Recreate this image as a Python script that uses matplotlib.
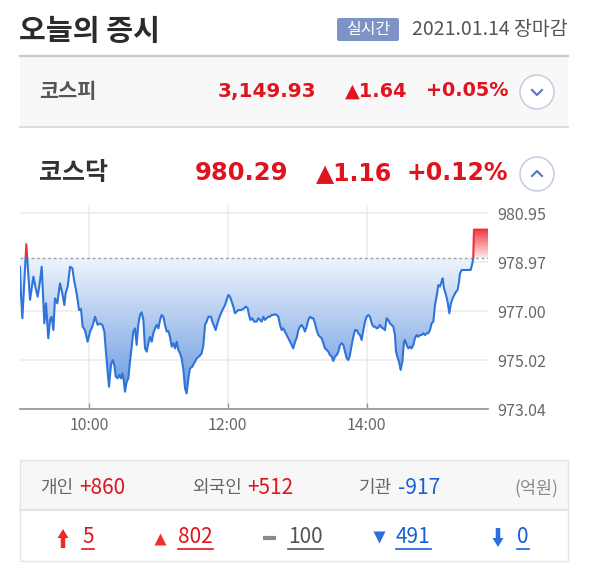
import numpy as np
import matplotlib
matplotlib.use("Agg")
import matplotlib.pyplot as plt
from matplotlib.colors import LinearSegmentedColormap
from matplotlib.patches import Rectangle, Circle, FancyBboxPatch, FancyArrow

plt.rcParams['font.family'] = ['Noto Sans CJK KR', 'DejaVu Sans']

RED = '#e0141e'
BLUE = '#1a5fd6'

# ---- data ----
title = "오늘의 증시"
badge = "실시간"
date_text = "2021.01.14 장마감"

index_names = ["코스피", "코스닥"]
index_values = ["3,149.93", "980.29"]
index_changes = ["1.64", "1.16"]
index_rates = ["+0.05%", "+0.12%"]

investors = ["개인", "외국인", "기관"]
investor_amounts = [860, 512, -917]
unit_label = "(억원)"

# 상한, 상승, 보합, 하락, 하한
breadth_counts = [5, 802, 100, 491, 0]

prev_close = 979.13
ytick_vals = [973.04, 975.02, 977.00, 978.97, 980.95]
xtick_minutes = [60, 180, 300]
xtick_labels = ["10:00", "12:00", "14:00"]

# minutes after 09:00
minutes = [
    0.3, 1.2, 2.4, 4.7, 5.8, 6.7, 9.0, 11.9, 13.3, 15.6, 17.6, 19.1, 20.5, 21.4,
    22.8, 24.0, 24.8, 26.3, 27.7, 29.2, 30.6, 32.6, 34.9, 36.9, 38.7, 39.8, 41.6,
    43.6, 45.6, 47.3, 49.3, 51.4, 53.1, 54.5, 56.5, 58.8, 60.9, 62.9, 65.2, 67.5,
    69.5, 71.5, 73.3, 74.4, 76.1, 77.3, 79.0, 80.5, 81.9, 83.1, 84.8, 86.2, 87.7,
    88.8, 90.0, 91.1, 92.6, 94.0, 95.4, 96.9, 98.3, 99.8, 101.2, 102.6, 104.1,
    105.5, 107.0, 108.4, 109.9, 111.3, 112.7, 114.2, 115.6, 117.1, 118.5, 120.0,
    121.4, 122.8, 124.3, 125.7, 127.2, 128.6, 130.0, 131.5, 132.9, 134.4, 135.8,
    137.2, 138.7, 140.1, 141.6, 143.0, 144.4, 145.9, 147.3, 149.3, 151.6, 153.1,
    155.1, 157.4, 158.9, 160.3, 161.7, 163.2, 165.5, 166.6, 168.4, 169.5, 171.0,
    172.4, 174.1, 176.1, 177.6, 179.0, 180.5, 181.9, 183.3, 184.8, 186.2, 187.7,
    189.1, 191.4, 193.4, 195.5, 197.2, 198.3, 199.5, 201.2, 202.7,
    204.9, 206.4, 207.8, 209.3, 210.7, 212.1, 213.6, 215.0, 216.5, 217.9, 219.4,
    220.8, 222.2, 223.7, 225.1, 226.6, 228.0, 229.4, 230.9, 232.3, 233.8, 235.2,
    236.6, 238.1, 239.5, 241.0, 242.4, 243.8, 245.3, 246.7, 248.2, 249.6, 251.1,
    252.5, 253.9, 255.4, 256.8, 258.3, 259.7, 261.1, 262.6, 264.0, 265.5, 266.9,
    268.3, 269.8, 271.2, 272.7, 274.1, 275.6, 277.0, 278.4, 279.9, 281.3, 282.8,
    284.2, 285.6, 287.1, 288.5, 290.0, 291.4, 292.8, 294.3, 295.7, 297.2, 298.6,
    300.0, 301.5, 302.9, 304.4, 305.8, 307.3, 308.7,
    310.1, 311.5, 313.0, 314.4, 315.9, 317.3, 318.7, 320.2, 321.6, 323.1, 324.5,
    325.4, 326.5, 328.0, 329.4, 330.9, 332.3, 333.2, 334.6, 336.0, 337.5, 338.9,
    340.4, 341.8, 343.2, 344.7, 346.1, 347.6, 349.0, 350.5, 351.9, 353.3, 354.8,
    356.2, 357.7, 359.1, 360.5, 362.0, 363.4, 364.9, 365.7, 366.9, 368.6, 370.0,
    371.5, 372.9, 374.4, 375.8, 377.3, 378.7, 379.9, 380.7, 382.2, 386.0, 389.9,
    391.1, 392.2, 392.8, 405.0,
]
kosdaq = [
    978.79, 977.65, 976.71, 978.73, 979.70, 979.06, 977.45, 978.39, 978.05, 977.58,
    978.19, 978.79, 977.38, 976.50, 977.31, 976.44, 975.90, 976.64, 976.77, 976.23,
    977.51, 977.31, 978.12, 977.72, 977.24, 977.72, 977.99, 978.79, 978.73, 978.19,
    977.72, 977.04, 977.08, 976.37, 976.23, 975.76, 976.17, 976.37, 976.77, 976.44,
    976.50, 976.44, 976.17, 975.49, 974.55, 973.94, 974.82, 975.02, 974.82, 974.35,
    974.28, 974.42, 974.28, 974.48, 974.21, 973.74, 974.15, 974.28, 974.95, 975.56,
    976.17, 976.30, 975.63, 976.44, 976.84,
    976.95, 976.64, 975.49, 975.36, 975.70, 975.96, 975.76, 976.10, 976.30, 976.44,
    976.30, 976.64, 976.84, 976.77, 976.44, 976.17, 976.19, 975.96, 975.56, 975.70,
    975.49, 975.76, 975.43, 975.29, 975.09, 974.62, 973.88, 973.67, 974.28, 974.68,
    974.75, 974.95, 975.09, 975.16, 975.29, 975.63, 976.44, 976.57, 976.77, 976.77,
    976.57, 976.37, 976.23, 976.50, 976.71, 976.91, 977.11, 977.24, 977.45, 977.65,
    977.58, 977.38, 977.18, 976.91, 976.98, 977.04, 977.04, 977.08, 977.18, 977.11,
    976.84, 976.64, 976.71, 976.57,
    976.57, 976.71, 976.64, 976.57, 976.77, 976.64, 976.71, 976.77, 976.77, 976.84,
    976.84, 976.87, 976.84, 976.77, 976.44, 976.23, 976.30, 976.17, 976.03, 975.90,
    975.76, 975.63, 975.49, 975.76, 975.90, 976.23, 976.37, 976.44, 976.33, 976.17,
    976.37, 976.64, 976.77, 976.71, 976.71, 976.50, 976.23, 976.03, 975.96, 975.90,
    975.70, 975.49, 975.43, 975.36, 975.22, 975.16, 974.98, 975.16, 975.22, 975.36,
    975.63, 975.70, 975.63, 975.36, 975.09, 975.02, 975.22, 975.63, 975.96, 976.23,
    976.23, 976.10, 976.03, 975.83, 976.23, 976.57, 976.77, 976.84, 976.77, 976.50,
    976.37, 976.37, 976.30,
    976.33, 976.44, 976.33, 976.30, 976.23, 976.71, 976.64, 976.50, 976.44, 976.37,
    976.03, 975.36, 975.16, 974.95, 974.62, 974.95, 975.76, 975.83, 975.63, 975.49,
    975.56, 975.49, 975.63, 975.90, 976.03, 975.96, 976.03, 976.03, 976.10, 976.03,
    976.10, 976.10, 976.23, 976.50, 976.57, 977.24, 977.58, 978.05, 977.99, 978.19,
    978.32, 977.92, 977.65, 977.38, 976.91, 977.31, 977.51, 977.65, 977.78, 977.85,
    978.19, 978.52, 978.66, 978.66, 978.66, 978.86, 979.13, 980.29, 980.29,
]

t = np.array(minutes)
v = np.array(kosdaq)

# ---- figure ----
W, H = 602, 584
fig = plt.figure(figsize=(W / 100, H / 100), dpi=100)
fig.patch.set_facecolor('white')

bg = fig.add_axes([0, 0, 1, 1], zorder=0)
bg.set_xlim(0, W)
bg.set_ylim(H, 0)
bg.axis('off')

# header
bg.text(19, 31, title, fontsize=21, fontweight='bold', color='#2b2b2b',
        ha='left', va='center')
bg.add_patch(FancyBboxPatch((337, 18), 62, 23, boxstyle='round,pad=0,rounding_size=2',
                            fc='#7d93c6', ec='none'))
bg.text(368, 29.5, badge, fontsize=11.5, color='white', ha='center', va='center')
bg.text(568, 29.5, date_text, fontsize=14, color='#555555', ha='right', va='center')
bg.plot([20, 568], [55.5, 55.5], color='#c8c8cf', lw=1.6)

# 코스피 / 코스닥 rows
bg.add_patch(Rectangle((20, 56.5), 548, 69.5, fc='#f8f8f8', ec='none'))
bg.plot([20, 568], [126.5, 126.5], color='#d5d5dc', lw=1.2)

rows_y = [91, 173]
name_sizes = [15, 18]
name_colors = ['#555555', '#333333']
num_sizes = [14.4, 17.5]
val_right = [316, 288]
chg_right = [407, 392]
for i in range(2):
    y = rows_y[i]
    bg.text(39, y, index_names[i], fontsize=name_sizes[i], fontweight='bold',
            color=name_colors[i], ha='left', va='center')
    bg.text(val_right[i], y, index_values[i], fontsize=num_sizes[i], fontweight='bold',
            color=RED, ha='right', va='center', family='DejaVu Sans')
    bg.text(chg_right[i], y, "▲" + index_changes[i], fontsize=num_sizes[i] - 0.5,
            fontweight='bold', color=RED, ha='right', va='center', family='DejaVu Sans')
    bg.text(508, y, index_rates[i], fontsize=num_sizes[i] - 0.5, fontweight='bold',
            color=RED, ha='right', va='center', family='DejaVu Sans')
    bg.add_patch(Circle((537, y + 1), 17, fc='white', ec='#c5cbe0', lw=1.1))

bg.plot([532, 537, 542], [90, 95, 90], color='#5874c4', lw=1.5)
bg.plot([532, 537, 542], [176, 171, 176], color='#5874c4', lw=1.5)

# ---- chart ----
px_per_min = 1.1567
px_per_val = 1 / 0.04042
ymin, ymax = 973.04, 981.3
left_px, bottom_px = 19.6, 409
ax = fig.add_axes([left_px / W, (H - bottom_px) / H,
                   405 * px_per_min / W, (ymax - ymin) * px_per_val / H],
                  zorder=1)
ax.patch.set_alpha(0)


def gradient_fill(ax, x, lo, hi, c_top, c_bot, v_top, v_bot):
    poly = ax.fill_between(x, lo, hi, color='none', lw=0)
    cmap = LinearSegmentedColormap.from_list('g', [c_top, c_bot])
    grad = np.linspace(0, 1, 256)[:, None]
    im = ax.imshow(grad, cmap=cmap, aspect='auto', origin='upper',
                   extent=[x.min(), x.max(), v_bot, v_top], zorder=1)
    im.set_clip_path(poly.get_paths()[0], transform=ax.transData)


gradient_fill(ax, t, np.minimum(v, prev_close), prev_close,
              '#eef4fd', '#5b8fdc', prev_close, ymin)
gradient_fill(ax, t, prev_close, np.maximum(v, prev_close),
              '#f23a44', '#fdeaea', v.max(), prev_close)

blue_line, = ax.plot(t, v, color='#2f74d8', lw=1.5, zorder=3)
red_line, = ax.plot(t, v, color='#f0303a', lw=1.5, zorder=3)
blue_line.set_clip_path(Rectangle((0, ymin), 405, prev_close - ymin, transform=ax.transData))
red_line.set_clip_path(Rectangle((0, prev_close), 405, ymax - prev_close, transform=ax.transData))

ax.axhline(prev_close, color='#a0a0a0', lw=1, ls=(0, (2, 2)), zorder=2)

ax.set_xlim(0, 405)
ax.set_ylim(ymin, ymax)
ax.set_yticks(ytick_vals)
ax.set_yticklabels([f"{y:.2f}" for y in ytick_vals])
ax.set_xticks(xtick_minutes)
ax.set_xticklabels(xtick_labels)
ax.yaxis.tick_right()
ax.tick_params(axis='y', length=0, pad=6.5, labelsize=11.5, labelcolor='#666666')
ax.tick_params(axis='x', direction='in', length=4.5, width=1, color='#999999',
               pad=6, labelsize=11.5, labelcolor='#666666')
ax.grid(True, color='#ebebeb', lw=1.1, zorder=0)
ax.set_axisbelow(True)
for s in ['top', 'left', 'right']:
    ax.spines[s].set_visible(False)
ax.spines['bottom'].set_color('#9a9a9a')
ax.spines['bottom'].set_linewidth(1.3)

# ---- investor box ----
bg.add_patch(Rectangle((20, 460), 548, 50, fc='#f7f7f7', ec='none'))
bg.add_patch(Rectangle((20, 460), 548, 101, fc='none', ec='#e5e5e5', lw=1))
bg.plot([20, 568], [510, 510], color='#e3e3e3', lw=1.5)

inv_x = [40, 192, 359]
for i, name in enumerate(investors):
    amt = investor_amounts[i]
    bg.text(inv_x[i], 488, name, fontsize=13, color='#666666', ha='left', va='center')
    bg.text(inv_x[i] + 39 + (len(name) - 2) * 16, 488, f"{amt:+d}", fontsize=15,
            color=RED if amt > 0 else BLUE, ha='left', va='center')
bg.text(558, 488, unit_label, fontsize=12.5, color='#888888', ha='right', va='center')

row_y = 537
num_x = [82, 178, 288, 396, 517]
num_colors = [RED, RED, '#555555', BLUE, BLUE]
num_texts = []
for i, c in enumerate(breadth_counts):
    num_texts.append(bg.text(num_x[i], row_y, str(c), fontsize=15, color=num_colors[i],
                             ha='left', va='center'))

bg.add_patch(FancyArrow(63, 548, 0, -19, width=4.5, head_width=11, head_length=9,
                        length_includes_head=True, color='#ee2a2a', lw=0))
bg.plot(160, 539, marker='^', ms=8, color='#f0302f', mec='none')
bg.plot([263, 276], [538, 538], color='#8a8a8a', lw=3, solid_capstyle='butt')
bg.plot(379, 537, marker='v', ms=8, color='#2a6ee0', mec='none')
bg.add_patch(FancyArrow(498, 528, 0, 19, width=4.5, head_width=11, head_length=9,
                        length_includes_head=True, color='#2a6ee0', lw=0))

fig.canvas.draw()
inv = bg.transData.inverted()
for i, tx in enumerate(num_texts):
    bb = tx.get_window_extent()
    x0, _ = inv.transform((bb.x0, bb.y0))
    x1, _ = inv.transform((bb.x1, bb.y0))
    bg.plot([x0, x1], [549, 549], color=num_colors[i], lw=1.2)

fig.savefig('out.png', dpi=100)
